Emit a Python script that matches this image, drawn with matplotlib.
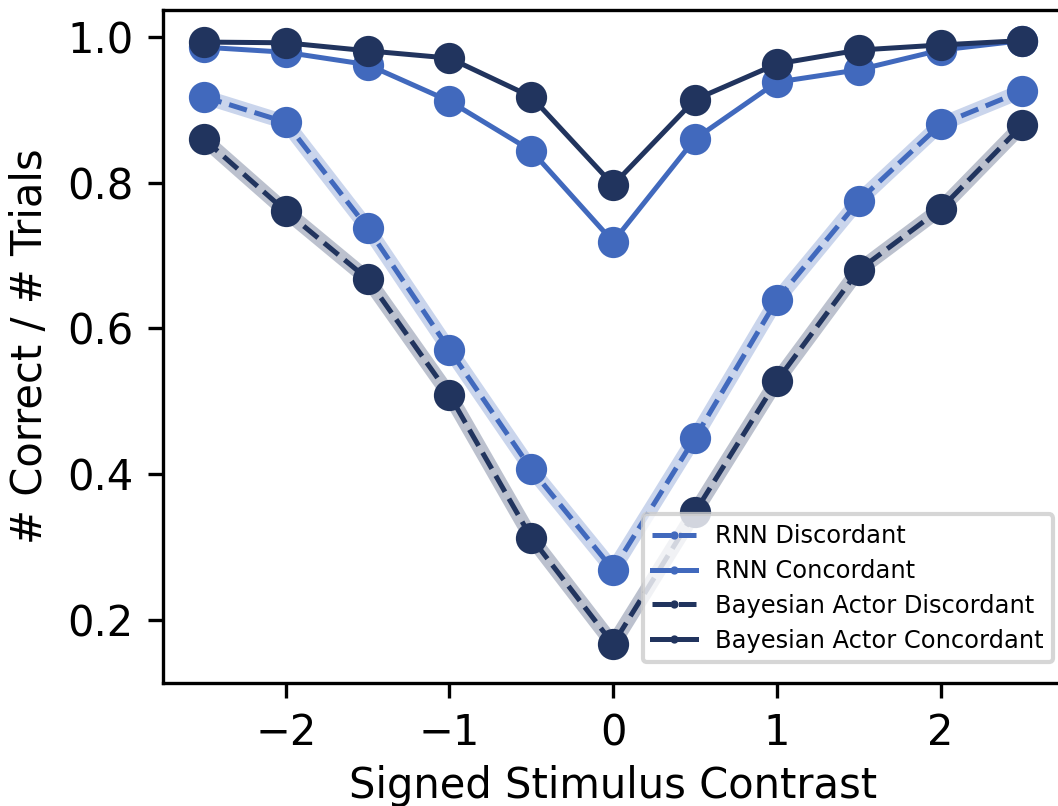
import numpy as np
import matplotlib
matplotlib.use('Agg')
from matplotlib import pyplot as plt

# signed stimulus contrast
contrast = [-2.5, -2.0, -1.5, -1.0, -0.5, 0.0, 0.5, 1.0, 1.5, 2.0, 2.5]

rnn_disc = [0.918, 0.883, 0.738, 0.571, 0.407, 0.269, 0.450, 0.639, 0.775, 0.880, 0.926]
rnn_conc = [0.986, 0.979, 0.962, 0.912, 0.844, 0.719, 0.860, 0.938, 0.955, 0.982, 0.995]
bayes_disc = [0.860, 0.761, 0.668, 0.509, 0.313, 0.167, 0.348, 0.528, 0.680, 0.764, 0.879]
bayes_conc = [0.993, 0.992, 0.981, 0.971, 0.918, 0.797, 0.914, 0.963, 0.982, 0.989, 0.995]

rnn_col = '#4169bd'
bayes_col = '#21345e'

fig = plt.figure(figsize=(1058 / 300, 806 / 300), dpi=300)
ax = fig.add_axes([0.154, 0.1526, 0.851, 0.835])

# shaded bands behind the discordant curves
ax.plot(contrast, rnn_disc, color=rnn_col, alpha=0.28, lw=3.5, solid_capstyle='round', zorder=1)
ax.plot(contrast, bayes_disc, color=bayes_col, alpha=0.3, lw=3.5, solid_capstyle='round', zorder=1)

ax.plot(contrast, rnn_disc, '--o', color=rnn_col, lw=1.2, ms=6.5, label='RNN Discordant', zorder=2)
ax.plot(contrast, rnn_conc, '-o', color=rnn_col, lw=1.2, ms=6.5, label='RNN Concordant', zorder=2)
ax.plot(contrast, bayes_disc, '--o', color=bayes_col, lw=1.2, ms=6.5, label='Bayesian Actor Discordant', zorder=3)
ax.plot(contrast, bayes_conc, '-o', color=bayes_col, lw=1.2, ms=6.5, label='Bayesian Actor Concordant', zorder=3)

ax.set_xlim(-2.75, 2.75)
ax.set_ylim(0.1136, 1.037)
ax.set_xticks([-2, -1, 0, 1, 2])
ax.set_yticks([0.2, 0.4, 0.6, 0.8, 1.0])
ax.tick_params(labelsize=10)
ax.spines['right'].set_visible(False)

ax.set_xlabel('Signed Stimulus Contrast', fontsize=10, labelpad=2.6)
ax.set_ylabel('# Correct / # Trials', fontsize=10)

ax.legend(loc='lower right', fontsize=5.8, markerscale=0.15, handlelength=1.8,
          labelspacing=0.45, bbox_to_anchor=(1.0025, 0.0126))

plt.savefig('out.png', dpi=300)
